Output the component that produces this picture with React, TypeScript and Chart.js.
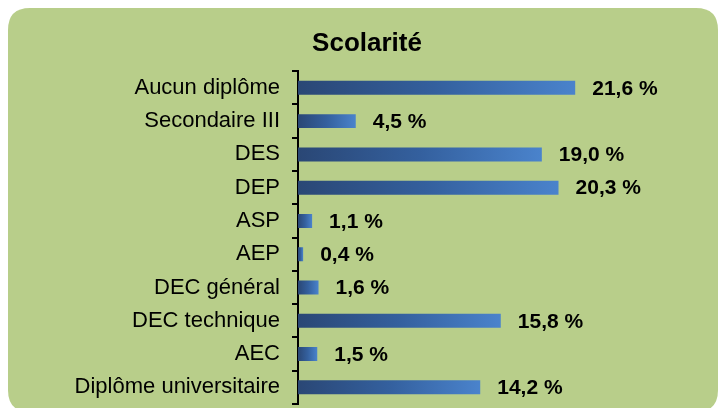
import React, { useEffect, useRef } from 'react';
import { Chart, registerables } from 'chart.js';

Chart.register(...registerables);

const categories = [
  'Aucun diplôme',
  'Secondaire III',
  'DES',
  'DEP',
  'ASP',
  'AEP',
  'DEC général',
  'DEC technique',
  'AEC',
  'Diplôme universitaire',
];
const values = [21.6, 4.5, 19.0, 20.3, 1.1, 0.4, 1.6, 15.8, 1.5, 14.2];
const titleText = 'Scolarité';

const FONT = "'Liberation Sans', Arial, sans-serif";

const fmt = (v: number) => v.toFixed(1).replace('.', ',') + ' %';

const backgroundPlugin = {
  id: 'greenBox',
  beforeDraw(chart: any) {
    const c = chart.ctx;
    const x = 8, y = 8, w = 710, h = 404, r = 22;
    c.save();
    c.fillStyle = '#B8CE8A';
    c.beginPath();
    c.moveTo(x + r, y);
    c.lineTo(x + w - r, y);
    c.quadraticCurveTo(x + w, y, x + w, y + r);
    c.lineTo(x + w, y + h - r);
    c.quadraticCurveTo(x + w, y + h, x + w - r, y + h);
    c.lineTo(x + r, y + h);
    c.quadraticCurveTo(x, y + h, x, y + h - r);
    c.lineTo(x, y + r);
    c.quadraticCurveTo(x, y, x + r, y);
    c.closePath();
    c.fill();
    c.restore();
  },
};

const valueLabelPlugin = {
  id: 'valueLabels',
  afterDatasetsDraw(chart: any) {
    const c = chart.ctx;
    const meta = chart.getDatasetMeta(0);
    c.save();
    c.font = `bold 21px ${FONT}`;
    c.fillStyle = '#000';
    c.textAlign = 'left';
    c.textBaseline = 'middle';
    meta.data.forEach((bar: any, i: number) => {
      c.fillText(fmt(values[i]), bar.x + 17, bar.y + 1);
    });
    c.restore();
  },
};

export default function App() {
  const ref = useRef<HTMLCanvasElement | null>(null);

  useEffect(() => {
    document.body.style.margin = '0';
    if (!ref.current) return;
    const chart = new Chart(ref.current, {
      type: 'bar',
      data: {
        labels: categories,
        datasets: [
          {
            data: values,
            backgroundColor: (ctx: any) => {
              const ch = ctx.chart;
              if (!ch.chartArea || ctx.type !== 'data' || !ch.scales.x) return '#3A66A8';
              const xs = ch.scales.x;
              const x0 = xs.getPixelForValue(0);
              const x1 = xs.getPixelForValue(ctx.raw);
              if (!isFinite(x0) || !isFinite(x1) || x1 - x0 < 0.5) return '#3A66A8';
              const g = ch.ctx.createLinearGradient(x0, 0, x1, 0);
              g.addColorStop(0, '#2A4775');
              g.addColorStop(0.5, '#34609E');
              g.addColorStop(1, '#4A83CC');
              return g;
            },
            borderWidth: 0,
            barPercentage: 0.42,
            categoryPercentage: 1,
          },
        ],
      },
      options: {
        indexAxis: 'y',
        animation: false,
        responsive: false,
        devicePixelRatio: 1,
        layout: { padding: { left: 51, right: 36, top: 0, bottom: 4 } },
        plugins: {
          legend: { display: false },
          tooltip: { enabled: false },
          title: {
            display: true,
            text: titleText,
            color: '#000',
            font: { family: FONT, size: 26, weight: 'bold' },
            padding: { top: 28, bottom: 12 },
          },
        },
        scales: {
          x: { display: false, min: 0, max: 30 },
          y: {
            afterFit: (scale: any) => {
              scale.width = 247;
              scale.paddingTop = 0;
              scale.paddingBottom = 0;
            },
            grid: {
              display: true,
              drawOnChartArea: false,
              drawTicks: true,
              tickLength: 6,
              color: '#000',
              lineWidth: 2,
              offset: true,
            },
            border: { display: true, color: '#000', width: 2 },
            ticks: {
              color: '#000',
              font: { family: FONT, size: 22 },
              padding: 12,
            },
          },
        },
      },
      plugins: [backgroundPlugin, valueLabelPlugin],
    } as any);
    return () => chart.destroy();
  }, []);

  return <canvas ref={ref} width={719} height={408} style={{ display: 'block' }} />;
}
